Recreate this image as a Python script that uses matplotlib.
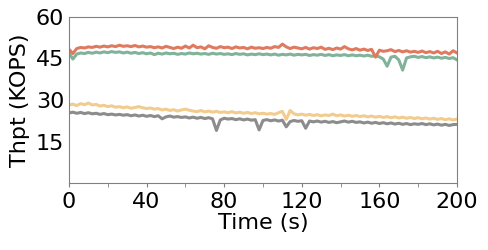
import matplotlib
matplotlib.use("Agg")
import matplotlib.pyplot as plt

# time axis (s), one sample every 2 s
time_s = list(range(0, 201, 2))

thpt_red = [48.3, 46.8, 48.6, 49.0, 48.8, 49.2, 49.0, 49.4, 49.1, 49.5,
            49.2, 49.6, 49.3, 49.8, 49.4, 49.6, 49.3, 49.7, 49.2, 49.5,
            49.1, 49.3, 48.9, 49.2, 48.8, 49.4, 49.0, 48.6, 49.1, 48.7,
            49.5, 48.8, 49.8, 48.9, 49.2, 48.5, 49.6, 49.0, 48.7, 49.3,
            48.9, 49.1, 48.6, 49.2, 48.8, 49.0, 48.5, 49.1, 48.7, 48.9,
            48.6, 49.0, 48.7, 49.3, 49.0, 50.2, 49.2, 48.6, 49.1, 48.8,
            48.5, 49.0, 48.4, 48.9, 48.6, 49.1, 48.3, 48.7, 48.2, 48.8,
            48.4, 49.3, 48.5, 48.1, 48.6, 48.0, 48.4, 47.9, 48.3, 45.5,
            48.0, 47.6, 47.8, 48.2, 47.5, 47.9, 47.4, 47.8, 47.3, 47.6,
            47.2, 47.7, 47.1, 47.5, 47.0, 47.6, 46.8, 47.4, 46.6, 47.8,
            47.0]

thpt_green = [47.0, 44.8, 46.6, 47.0, 46.8, 47.2, 46.9, 47.3, 47.0, 47.4,
              47.1, 47.5, 47.2, 47.4, 47.0, 47.3, 46.9, 47.2, 46.8, 47.1,
              46.7, 47.0, 46.4, 46.9, 46.6, 47.0, 46.7, 46.9, 46.5, 46.8,
              46.6, 47.0, 46.7, 46.9, 46.6, 46.8, 46.5, 46.9, 46.6, 46.8,
              46.5, 46.7, 46.4, 46.8, 46.5, 46.7, 46.3, 46.6, 46.4, 46.7,
              46.4, 46.6, 46.3, 46.6, 46.2, 46.5, 46.3, 46.6, 46.2, 46.5,
              46.3, 46.5, 46.1, 46.4, 46.2, 46.5, 46.1, 46.4, 46.0, 46.3,
              46.1, 46.4, 46.0, 46.3, 46.0, 46.2, 45.9, 46.2, 45.8, 46.0,
              45.6, 44.8, 42.2, 45.5, 45.8, 44.5, 40.8, 45.2, 45.6, 45.8,
              45.4, 45.7, 45.3, 45.6, 45.2, 45.5, 45.1, 45.4, 45.0, 45.3,
              44.5]

thpt_yellow = [28.2, 28.5, 28.0, 28.7, 28.3, 28.9, 28.2, 28.4, 27.8, 28.1,
               27.6, 27.9, 27.4, 27.6, 27.2, 27.5, 27.0, 27.3, 27.6, 27.2,
               26.9, 27.1, 26.7, 26.9, 26.4, 26.7, 26.2, 26.5, 26.0, 26.4,
               26.7, 26.3, 26.0, 25.8, 26.2, 25.7, 26.0, 25.6, 25.9, 25.5,
               25.7, 25.4, 25.8, 25.3, 25.6, 25.2, 25.5, 25.1, 25.4, 25.0,
               25.2, 24.9, 25.1, 24.8, 25.4, 25.9, 23.0, 26.2, 25.0, 24.6,
               24.9, 24.5, 24.8, 24.4, 24.7, 24.3, 24.6, 24.4, 24.9, 24.3,
               24.6, 24.2, 24.5, 24.1, 24.4, 24.0, 24.3, 23.9, 24.2, 23.8,
               24.1, 23.7, 24.0, 23.6, 23.9, 23.5, 23.8, 23.4, 23.7, 23.3,
               23.6, 23.2, 23.5, 23.1, 23.4, 23.0, 23.3, 22.9, 23.2, 22.8,
               23.1]

thpt_gray = [25.3, 25.6, 25.2, 25.5, 25.1, 25.4, 25.0, 25.2, 24.8, 25.1,
             24.7, 24.9, 24.6, 24.8, 24.5, 24.7, 24.3, 24.6, 24.2, 24.5,
             24.1, 24.4, 24.0, 24.3, 23.2, 23.9, 24.2, 23.8, 24.0, 23.7,
             23.9, 23.5, 23.8, 23.4, 23.7, 23.3, 23.6, 23.2, 19.0, 22.8,
             23.4, 23.1, 23.3, 22.9, 23.2, 22.8, 23.1, 22.7, 22.9, 19.2,
             22.6, 22.9, 22.5, 22.8, 22.4, 22.7, 20.3, 22.2, 22.6, 22.3,
             22.5, 19.8, 22.4, 22.1, 22.4, 22.0, 22.3, 21.9, 22.2, 21.8,
             22.1, 22.4, 22.0, 22.3, 21.9, 22.1, 21.7, 22.0, 21.6, 21.9,
             21.5, 21.8, 21.4, 21.7, 21.3, 21.6, 21.2, 21.5, 21.1, 21.4,
             21.2, 21.5, 21.1, 21.4, 21.0, 21.3, 20.9, 21.2, 20.8, 21.1,
             21.2]

fig = plt.figure(figsize=(4.88, 2.5), dpi=100)
ax = fig.add_axes([0.1414, 0.268, 0.795, 0.664])

lw = 2.2
ax.plot(time_s, thpt_gray, color="#8c8c8c", lw=lw)
ax.plot(time_s, thpt_yellow, color="#f2cc8f", lw=lw)
ax.plot(time_s, thpt_green, color="#81b29a", lw=lw)
ax.plot(time_s, thpt_red, color="#e07a5f", lw=lw)

ax.set_xlim(0, 200)
ax.set_ylim(0, 60)
ax.set_xticks(range(0, 201, 40))
ax.set_xticks(range(20, 201, 40), minor=True)
ax.set_yticks([15, 30, 45, 60])
ax.tick_params(axis="x", which="both", length=3, color="#808080", labelsize=16)
ax.tick_params(axis="y", length=0, labelsize=16)
for s in ax.spines.values():
    s.set_color("#808080")

ax.set_xlabel("Time (s)", fontsize=16, labelpad=1)
ax.set_ylabel("Thpt (KOPS)", fontsize=16)

fig.savefig("out.png", dpi=100)
